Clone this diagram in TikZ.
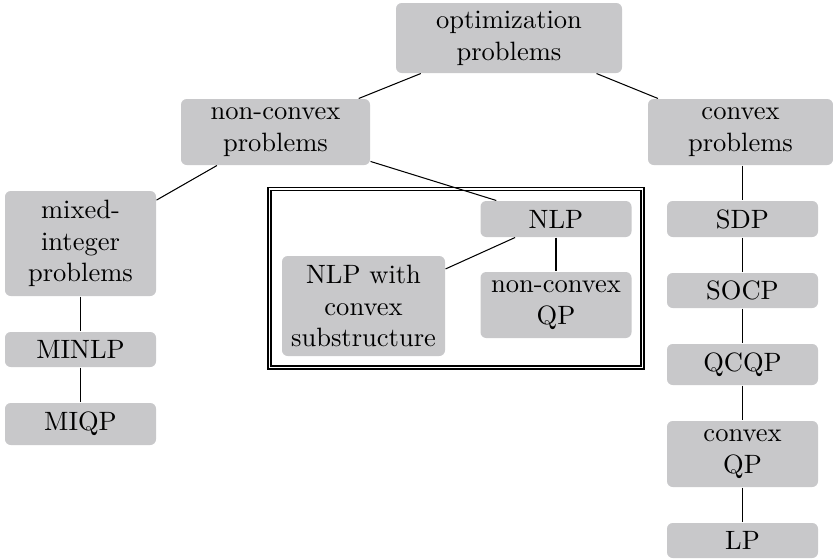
\documentclass[tikz,border=0pt]{standalone}
\usepackage{tikz}
\definecolor{boxgray}{RGB}{200,200,202}
\tikzset{
  box/.style={fill=boxgray, rounded corners=2.2pt, align=center, inner sep=0pt, font=\fontsize{10.2}{12.2}\selectfont},
  sz/.style 2 args={minimum width=#1*0.3846pt, minimum height=#2*0.3846pt},
  link/.style={draw=black, line width=0.4pt},
  frameline/.style={draw=black, line width=0.4pt},
}
\begin{document}
\begin{tikzpicture}[x=0.3846pt, y=-0.3846pt]
\useasboundingbox (0,0) rectangle (833,559);
% double frame around NLP group
\coordinate (fo1) at (268,187.5);
\coordinate (fo2) at (644,369);
\coordinate (fi1) at (271,190.5);
\coordinate (fi2) at (641,366);
\draw[frameline] (fo1) rectangle (fo2);
\draw[frameline] (fi1) rectangle (fi2);
% nodes
\node[box, sz={226}{70}] (opt) at (509,38) {optimization\\problems};
\node[box, sz={189}{66}] (nc) at (275.5,132) {non-convex\\problems};
\node[box, sz={185}{66}] (cv) at (740.5,132) {convex\\problems};
\node[box, sz={151}{105}] (mi) at (80.5,243.5) {mixed-\\integer\\problems};
\node[box, sz={151}{35}] (minlp) at (80.5,349.5) {MINLP};
\node[box, sz={151}{42}] (miqp) at (80.5,424) {MIQP};
\node[box, sz={163}{100}] (nlpc) at (363.5,306) {NLP with\\convex\\substructure};
\node[box, sz={151}{36}] (nlp) at (556,219) {NLP};
\node[box, sz={151}{66}] (ncqp) at (556,305) {non-convex\\QP};
\node[box, sz={151}{36}] (sdp) at (742.5,219) {SDP};
\node[box, sz={151}{35}] (socp) at (742.5,290.5) {SOCP};
\node[box, sz={151}{41}] (qcqp) at (742.5,364.5) {QCQP};
\node[box, sz={151}{66}] (cqp) at (742.5,454) {convex\\QP};
\node[box, sz={151}{35}] (lp) at (742.5,540.5) {LP};
% connectors
\draw[link] (opt) -- (nc);
\draw[link] (opt) -- (cv);
\draw[link] (nc) -- (mi);
\draw[link] (nc) -- (nlp);
\draw[link] (mi) -- (minlp);
\draw[link] (minlp) -- (miqp);
\draw[link] (nlp) -- (nlpc);
\draw[link] (nlp) -- (ncqp);
\draw[link] (cv.south -| sdp.north) -- (sdp);
\draw[link] (sdp) -- (socp);
\draw[link] (socp) -- (qcqp);
\draw[link] (qcqp) -- (cqp);
\draw[link] (cqp) -- (lp);
\end{tikzpicture}
\end{document}
